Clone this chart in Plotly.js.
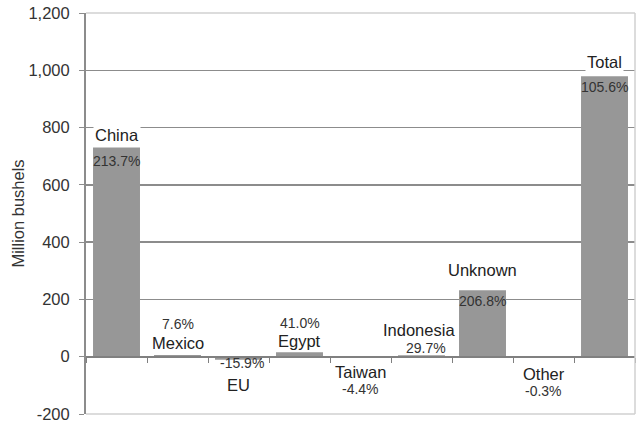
<!DOCTYPE html>
<html>
<head>
<meta charset="utf-8">
<script src="https://cdn.plot.ly/plotly-3.0.1.min.js"></script>
<style>html,body{margin:0;padding:0;background:#fff;}#chart{width:637px;height:424px;}</style>
</head>
<body>
<div id="chart"></div>
<script>
// ---- data ----
const categories = ["China", "Mexico", "EU", "Egypt", "Taiwan", "Indonesia", "Unknown", "Other", "Total"];
const values = [730, 6, -11, 16, -2, 5, 232, -1, 979];
const pctChange = ["213.7%", "7.6%", "-15.9%", "41.0%", "-4.4%", "29.7%", "206.8%", "-0.3%", "105.6%"];
const yTickVals = [-200, 0, 200, 400, 600, 800, 1000, 1200];
const yTickText = ["-200", "0", "200", "400", "600", "800", "1,000", "1,200"];
const yTitle = "Million bushels";

// ---- label placement (pixel offsets from the bar end; style only) ----
const namePlace = [
  {dy: 13, dx: 0, bg: true}, {dy: 12, dx: 0}, {dy: -28, dx: 0, zero: true}, {dy: 11, dx: 0},
  {dy: -15, dx: 0, zero: true}, {dy: 25, dx: -3}, {dy: 20, dx: 0}, {dy: -17, dx: 0, zero: true}, {dy: 14, dx: 0, bg: true}
];
const pctPlace = [
  {dy: -13, dx: 0}, {dy: 31, dx: 0}, {dy: -6, dx: 3, zero: true}, {dy: 29, dx: 0},
  {dy: -32, dx: 0, zero: true}, {dy: 7, dx: 4}, {dy: -11, dx: 0}, {dy: -34, dx: 0, zero: true}, {dy: -11, dx: 0}
];

const FONT = "Liberation Sans, Arial, sans-serif";
const annotations = [];
categories.forEach((c, i) => {
  const n = namePlace[i], p = pctPlace[i];
  annotations.push({
    x: c, y: n.zero ? 0 : values[i], xref: 'x', yref: 'y',
    text: c, showarrow: false, yanchor: 'middle', xanchor: 'center',
    yshift: n.dy, xshift: n.dx,
    font: {family: FONT, size: 16.5, color: '#222'},
    bgcolor: n.bg ? '#ffffff' : 'rgba(0,0,0,0)', borderpad: n.bg ? 1 : 0
  });
  annotations.push({
    x: c, y: p.zero ? 0 : values[i], xref: 'x', yref: 'y',
    text: pctChange[i], showarrow: false, yanchor: 'middle', xanchor: 'center',
    yshift: p.dy, xshift: p.dx, borderpad: 0,
    font: {family: FONT, size: 14, color: '#333'}
  });
});

const trace = {
  type: 'bar', x: categories, y: values,
  marker: {color: '#979797', line: {width: 0}},
  hoverinfo: 'skip'
};

const layout = {
  width: 637, height: 424,
  margin: {l: 86, r: 2, t: 13, b: 10, pad: 0},
  paper_bgcolor: '#fff', plot_bgcolor: '#fff',
  showlegend: false,
  bargap: 0.23,
  font: {family: FONT, color: '#333'},
  xaxis: {
    type: 'category', range: [-0.5, 8.5],
    anchor: 'free', position: 200 / 1400,
    showline: true, linecolor: '#808080', linewidth: 2,
    ticks: 'outside', tickson: 'boundaries', ticklen: 5, tickcolor: '#808080', tickwidth: 1,
    showticklabels: false, showgrid: false, zeroline: false, fixedrange: true
  },
  yaxis: {
    range: [-200, 1200], tickvals: yTickVals, ticktext: yTickText,
    showgrid: true, gridcolor: '#8c8c8c', gridwidth: 1.5,
    zeroline: false,
    showline: true, linecolor: '#8c8c8c', linewidth: 2,
    ticks: 'outside', ticklen: 5, tickcolor: '#8c8c8c', tickwidth: 1,
    tickfont: {family: FONT, size: 16.5, color: '#333'},
    ticklabelstandoff: 6,
    title: {text: yTitle, font: {family: FONT, size: 16.5, color: '#333'}, standoff: 0},
    fixedrange: true
  },
  shapes: [
    {type: 'line', xref: 'paper', yref: 'paper', x0: 0, x1: 1, y0: 1, y1: 1, line: {color: '#d0d0d0', width: 1.5}, layer: 'above'},
    {type: 'line', xref: 'paper', yref: 'paper', x0: 1, x1: 1, y0: 0, y1: 1, line: {color: '#d0d0d0', width: 1.5}, layer: 'above'},
    {type: 'line', xref: 'paper', yref: 'paper', x0: 0, x1: 1, y0: 0, y1: 0, line: {color: '#d0d0d0', width: 1.5}, layer: 'above'}
  ],
  annotations: annotations
};

Plotly.newPlot('chart', [trace], layout, {displayModeBar: false, staticPlot: true});
</script>
</body>
</html>
